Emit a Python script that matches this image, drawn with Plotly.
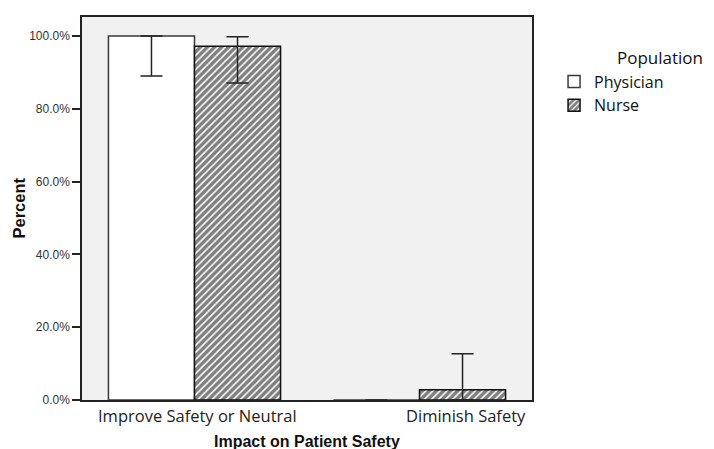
import plotly.graph_objects as go

categories = ["Improve Safety or Neutral", "Diminish Safety"]
physician = [100.0, 0.0]
physician_err_plus = [0.0, 0.0]
physician_err_minus = [11.0, 0.0]
nurse = [97.2, 2.8]
nurse_err_plus = [2.6, 9.9]
nurse_err_minus = [10.1, 2.8]
y_ticks = [0, 20, 40, 60, 80, 100]
label_shifts = [3, 46]

fig = go.Figure()
fig.add_trace(go.Bar(
    name="Physician", x=categories, y=physician,
    marker=dict(color="white", line=dict(color="#3a3a3a", width=1.5)),
    error_y=dict(type="data", array=physician_err_plus, arrayminus=physician_err_minus,
                 color="#222222", thickness=1.5, width=11),
))
fig.add_trace(go.Bar(
    name="Nurse", x=categories, y=nurse,
    marker=dict(color="white", line=dict(color="#111111", width=1.5),
                pattern=dict(shape="/", fgcolor="black", bgcolor="white", size=5, solidity=0.7)),
    error_y=dict(type="data", array=nurse_err_plus, arrayminus=nurse_err_minus,
                 color="#222222", thickness=1.5, width=11),
))

annotations = [
    dict(text="Population", x=1.184, y=0.894, xref="paper", yref="paper",
         xanchor="left", yanchor="middle", showarrow=False,
         font=dict(family="Open Sans", size=17, color="#111111")),
    dict(text="<b>Impact on Patient Safety</b>", x=0.5, y=0, xref="paper", yref="paper",
         xanchor="center", yanchor="middle", yshift=-41, showarrow=False,
         font=dict(family="Liberation Sans, Arial", size=16, color="#111111")),
    dict(text="<b>Percent</b>", x=0, y=0.5, xref="paper", yref="paper", textangle=-90,
         xanchor="center", yanchor="middle", xshift=-64, showarrow=False,
         font=dict(family="Liberation Sans, Arial", size=16.5, color="#111111")),
]
for cat, sh in zip(categories, label_shifts):
    annotations.append(dict(text=cat, x=cat, y=0, xref="x", yref="paper",
                            xanchor="center", yanchor="top", xshift=sh, yshift=-2,
                            showarrow=False,
                            font=dict(family="Open Sans", size=16.5, color="#222222")))

fig.update_layout(
    width=714, height=449,
    margin=dict(l=74, r=190, t=7, b=57),
    paper_bgcolor="white", plot_bgcolor="#f1f1f1",
    barmode="group", bargap=0.235, bargroupgap=0,
    font=dict(family="Liberation Sans, Arial", color="#222222"),
    showlegend=True,
    legend=dict(x=1.049, y=0.876, xanchor="left", yanchor="top",
                font=dict(family="Open Sans", size=16, color="#111111"),
                bgcolor="rgba(0,0,0,0)", tracegroupgap=0, itemwidth=30),
    annotations=annotations,
)
fig.update_yaxes(
    range=[0, 105.2], tickvals=y_ticks, ticktext=[f"{v:.1f}%" for v in y_ticks],
    ticks="outside", ticklen=8, tickcolor="#222222", tickwidth=1.5,
    showgrid=False, zeroline=False,
    showline=True, linecolor="#222222", linewidth=1.5, mirror=True,
    tickfont=dict(family="Liberation Sans, Arial", size=12, color="#333333"),
)
fig.update_xaxes(
    ticks="", showgrid=False, zeroline=False, showticklabels=False,
    showline=True, linecolor="#222222", linewidth=1.5, mirror=True,
)

fig.write_html("out.html")
